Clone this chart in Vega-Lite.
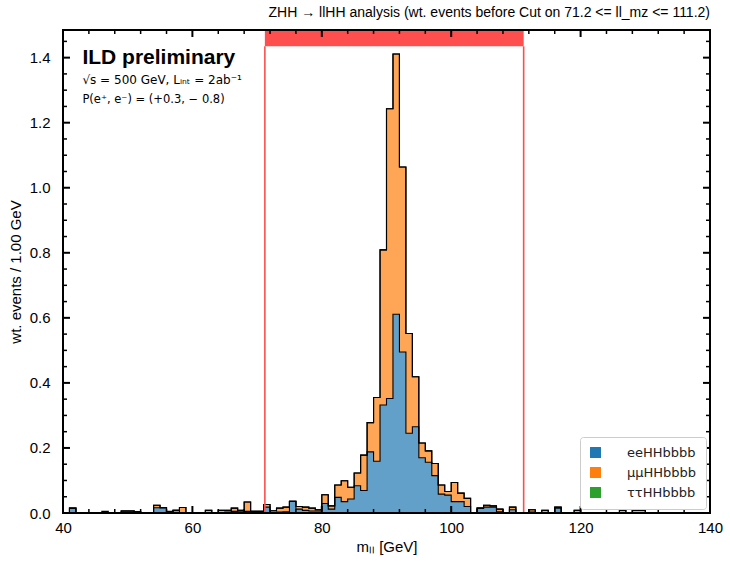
{
  "$schema": "https://vega.github.io/schema/vega-lite/v6.json",
  "width": 647,
  "height": 483,
  "autosize": {"type": "none"},
  "padding": {"left": 63, "top": 30, "right": 20, "bottom": 49},
  "background": "white",
  "title": {"text": "ZHH → llHH analysis (wt. events before Cut on 71.2 <= ll_mz <= 111.2)", "anchor": "end", "frame": "group", "font": "Liberation Sans", "fontSize": 14, "fontWeight": "normal", "color": "black", "offset": 9},
  "config": {
    "view": {"stroke": null},
    "axis": {"grid": false, "domain": false, "ticks": false, "labelColor": "black", "labelFont": "Liberation Sans", "labelFontSize": 15, "titleFont": "Liberation Sans", "titleFontSize": 15, "titleFontWeight": "normal", "titleColor": "black"}
  },
  "resolve": {"scale": {"x": "shared", "y": "shared"}, "axis": {"x": "independent", "y": "independent"}},
  "datasets": {
    "hist": [
      {"m":40,"ee":0,"mm":0,"tt":0},{"m":41,"ee":0.015,"mm":0,"tt":0},{"m":42,"ee":0,"mm":0,"tt":0},{"m":43,"ee":0,"mm":0,"tt":0},{"m":44,"ee":0,"mm":0,"tt":0},
      {"m":45,"ee":0,"mm":0,"tt":0},{"m":46,"ee":0,"mm":0,"tt":0.005},{"m":47,"ee":0,"mm":0,"tt":0},{"m":48,"ee":0,"mm":0,"tt":0},{"m":49,"ee":0.006,"mm":0,"tt":0},
      {"m":50,"ee":0.006,"mm":0,"tt":0},{"m":51,"ee":0.004,"mm":0,"tt":0},{"m":52,"ee":0,"mm":0,"tt":0},{"m":53,"ee":0,"mm":0,"tt":0},{"m":54,"ee":0.016,"mm":0.008,"tt":0},
      {"m":55,"ee":0.016,"mm":0,"tt":0},{"m":56,"ee":0,"mm":0,"tt":0.005},{"m":57,"ee":0.008,"mm":0,"tt":0},{"m":58,"ee":0,"mm":0.017,"tt":0},{"m":59,"ee":0,"mm":0,"tt":0},
      {"m":60,"ee":0,"mm":0,"tt":0},{"m":61,"ee":0,"mm":0,"tt":0},{"m":62,"ee":0,"mm":0.008,"tt":0},{"m":63,"ee":0,"mm":0,"tt":0},{"m":64,"ee":0,"mm":0.008,"tt":0},
      {"m":65,"ee":0.003,"mm":0.005,"tt":0},{"m":66,"ee":0.005,"mm":0.01,"tt":0},{"m":67,"ee":0.004,"mm":0.004,"tt":0},{"m":68,"ee":0.005,"mm":0.029,"tt":0},{"m":69,"ee":0.005,"mm":0,"tt":0},
      {"m":70,"ee":0.005,"mm":0,"tt":0},{"m":71,"ee":0.018,"mm":0.008,"tt":0},{"m":72,"ee":0,"mm":0.007,"tt":0},{"m":73,"ee":0.003,"mm":0.012,"tt":0},{"m":74,"ee":0.004,"mm":0.014,"tt":0},
      {"m":75,"ee":0.036,"mm":0,"tt":0},{"m":76,"ee":0.012,"mm":0.008,"tt":0},{"m":77,"ee":0.008,"mm":0.01,"tt":0},{"m":78,"ee":0.006,"mm":0.009,"tt":0},{"m":79,"ee":0.006,"mm":0.004,"tt":0},
      {"m":80,"ee":0.029,"mm":0.027,"tt":0},{"m":81,"ee":0.012,"mm":0.01,"tt":0},{"m":82,"ee":0.048,"mm":0.038,"tt":0},{"m":83,"ee":0.035,"mm":0.064,"tt":0},{"m":84,"ee":0.043,"mm":0.036,"tt":0},
      {"m":85,"ee":0.084,"mm":0.039,"tt":0},{"m":86,"ee":0.069,"mm":0.109,"tt":0},{"m":87,"ee":0.188,"mm":0.09,"tt":0},{"m":88,"ee":0.159,"mm":0.196,"tt":0},{"m":89,"ee":0.332,"mm":0.477,"tt":0},
      {"m":90,"ee":0.352,"mm":0.891,"tt":0},{"m":91,"ee":0.611,"mm":0.8,"tt":0},{"m":92,"ee":0.495,"mm":0.569,"tt":0},{"m":93,"ee":0.245,"mm":0.307,"tt":0},{"m":94,"ee":0.265,"mm":0.154,"tt":0},
      {"m":95,"ee":0.17,"mm":0.045,"tt":0},{"m":96,"ee":0.156,"mm":0.035,"tt":0},{"m":97,"ee":0.115,"mm":0.037,"tt":0},{"m":98,"ee":0.058,"mm":0.028,"tt":0},{"m":99,"ee":0.055,"mm":0.011,"tt":0},
      {"m":100,"ee":0.035,"mm":0.059,"tt":0},{"m":101,"ee":0.035,"mm":0.026,"tt":0},{"m":102,"ee":0.02,"mm":0.025,"tt":0},{"m":103,"ee":0,"mm":0,"tt":0},{"m":104,"ee":0.015,"mm":0,"tt":0},
      {"m":105,"ee":0.018,"mm":0.006,"tt":0},{"m":106,"ee":0.018,"mm":0.004,"tt":0},{"m":107,"ee":0.004,"mm":0.008,"tt":0},{"m":108,"ee":0,"mm":0,"tt":0},{"m":109,"ee":0.01,"mm":0.008,"tt":0},
      {"m":110,"ee":0,"mm":0,"tt":0},{"m":111,"ee":0,"mm":0,"tt":0},{"m":112,"ee":0.003,"mm":0.007,"tt":0},{"m":113,"ee":0,"mm":0,"tt":0},{"m":114,"ee":0,"mm":0.008,"tt":0},
      {"m":115,"ee":0,"mm":0,"tt":0},{"m":116,"ee":0.015,"mm":0.003,"tt":0},{"m":117,"ee":0,"mm":0,"tt":0},{"m":118,"ee":0,"mm":0,"tt":0},{"m":119,"ee":0,"mm":0.008,"tt":0},
      {"m":120,"ee":0,"mm":0,"tt":0},{"m":121,"ee":0,"mm":0,"tt":0},{"m":122,"ee":0,"mm":0,"tt":0},{"m":123,"ee":0,"mm":0,"tt":0},{"m":124,"ee":0,"mm":0,"tt":0},
      {"m":125,"ee":0,"mm":0,"tt":0},{"m":126,"ee":0,"mm":0.008,"tt":0},{"m":127,"ee":0,"mm":0,"tt":0},{"m":128,"ee":0,"mm":0.008,"tt":0},{"m":129,"ee":0,"mm":0.008,"tt":0},
      {"m":130,"ee":0,"mm":0,"tt":0},{"m":131,"ee":0,"mm":0,"tt":0},{"m":132,"ee":0,"mm":0,"tt":0},{"m":133,"ee":0,"mm":0,"tt":0},{"m":134,"ee":0,"mm":0,"tt":0},
      {"m":135,"ee":0,"mm":0,"tt":0},{"m":136,"ee":0,"mm":0,"tt":0},{"m":137,"ee":0,"mm":0,"tt":0},{"m":138,"ee":0,"mm":0,"tt":0},{"m":139,"ee":0,"mm":0,"tt":0},
      {"m":140,"ee":0,"mm":0,"tt":0}
    ],
    "cut": [{"lo": 71.2, "hi": 111.2}],
    "cutlines": [{"c": 71.2}, {"c": 111.2}],
    "xmajor": [{"v":40},{"v":60},{"v":80},{"v":100},{"v":120},{"v":140}],
    "xminor": [{"v":44},{"v":48},{"v":52},{"v":56},{"v":64},{"v":68},{"v":72},{"v":76},{"v":84},{"v":88},{"v":92},{"v":96},{"v":104},{"v":108},{"v":112},{"v":116},{"v":124},{"v":128},{"v":132},{"v":136}],
    "ymajor": [{"v":0},{"v":0.2},{"v":0.4},{"v":0.6},{"v":0.8},{"v":1.0},{"v":1.2},{"v":1.4}],
    "yminor": [{"v":0.05},{"v":0.1},{"v":0.15},{"v":0.25},{"v":0.3},{"v":0.35},{"v":0.45},{"v":0.5},{"v":0.55},{"v":0.65},{"v":0.7},{"v":0.75},{"v":0.85},{"v":0.9},{"v":0.95},{"v":1.05},{"v":1.1},{"v":1.15},{"v":1.25},{"v":1.3},{"v":1.35},{"v":1.45}]
  },
  "layer": [
    {
      "data": {"name": "hist"},
      "transform": [{"fold": ["ee", "mm", "tt"], "as": ["p", "w"]}],
      "mark": {"type": "area", "interpolate": "step-after", "fillOpacity": 0.7},
      "encoding": {
        "x": {"field": "m", "type": "quantitative", "scale": {"domain": [40, 140], "nice": false, "zero": false},
          "axis": {"orient": "bottom", "values": [40, 60, 80, 100, 120, 140], "labelPadding": 7, "title": "mₗₗ [GeV]", "titlePadding": 4, "labelFlush": false}},
        "y": {"field": "w", "type": "quantitative", "stack": "zero", "scale": {"domain": [0, 1.485], "nice": false},
          "axis": {"orient": "left", "values": [0, 0.2, 0.4, 0.6, 0.8, 1.0, 1.2, 1.4], "format": ".1f", "labelPadding": 13, "title": "wt. events / 1.00 GeV", "titlePadding": 6}},
        "color": {"field": "p", "type": "nominal", "scale": {"domain": ["ee", "mm", "tt"], "range": ["#1f77b4", "#ff7f0e", "#2ca02c"]},
          "legend": {"orient": "bottom-right", "offset": 4, "title": null, "fillColor": "white", "strokeColor": "#cccccc", "cornerRadius": 3, "padding": 9, "symbolType": "square", "symbolSize": 120, "symbolOpacity": 1, "symbolFillOpacity": 1, "symbolStrokeWidth": 0, "labelFont": "DejaVu Sans", "labelFontSize": 13, "labelColor": "#222222", "labelOffset": 25, "rowPadding": 6,
            "labelExpr": "datum.label == 'ee' ? 'eeHHbbbb' : datum.label == 'mm' ? 'μμHHbbbb' : 'ττHHbbbb'"}},
        "order": {"field": "p", "sort": "ascending"}
      }
    },
    {
      "data": {"name": "hist"},
      "transform": [{"fold": ["ee", "mm", "tt"], "as": ["p", "w"]}],
      "mark": {"type": "line", "interpolate": "step-after", "color": "black", "strokeWidth": 1.1},
      "encoding": {
        "x": {"field": "m", "type": "quantitative", "axis": null},
        "y": {"field": "w", "type": "quantitative", "stack": "zero", "axis": null},
        "detail": {"field": "p", "type": "nominal"},
        "order": {"field": "p", "sort": "ascending"}
      }
    },
    {
      "data": {"name": "cut"},
      "mark": {"type": "rect", "color": "#ff4545", "opacity": 0.95},
      "encoding": {
        "x": {"field": "lo", "type": "quantitative", "axis": null},
        "x2": {"field": "hi"},
        "y": {"datum": 1.435, "type": "quantitative", "axis": null},
        "y2": {"datum": 1.485}
      }
    },
    {
      "data": {"name": "cutlines"},
      "mark": {"type": "rule", "color": "#ff4d4d", "strokeWidth": 1.6},
      "encoding": {
        "x": {"field": "c", "type": "quantitative", "axis": null},
        "y": {"datum": 0, "type": "quantitative", "axis": null},
        "y2": {"datum": 1.435}
      }
    },
    {
      "data": {"name": "xmajor"},
      "mark": {"type": "rule", "color": "black", "strokeWidth": 2, "clip": false},
      "encoding": {"x": {"field": "v", "type": "quantitative", "axis": null}, "y": {"datum": 0, "type": "quantitative", "axis": null}, "y2": {"datum": 0.0215}}
    },
    {
      "data": {"name": "xmajor"},
      "mark": {"type": "rule", "color": "black", "strokeWidth": 2, "clip": false},
      "encoding": {"x": {"field": "v", "type": "quantitative", "axis": null}, "y": {"datum": 1.4635, "type": "quantitative", "axis": null}, "y2": {"datum": 1.485}}
    },
    {
      "data": {"name": "xminor"},
      "mark": {"type": "rule", "color": "black", "strokeWidth": 1.5, "clip": false},
      "encoding": {"x": {"field": "v", "type": "quantitative", "axis": null}, "y": {"datum": 0, "type": "quantitative", "axis": null}, "y2": {"datum": 0.0123}}
    },
    {
      "data": {"name": "xminor"},
      "mark": {"type": "rule", "color": "black", "strokeWidth": 1.5, "clip": false},
      "encoding": {"x": {"field": "v", "type": "quantitative", "axis": null}, "y": {"datum": 1.4727, "type": "quantitative", "axis": null}, "y2": {"datum": 1.485}}
    },
    {
      "data": {"name": "ymajor"},
      "mark": {"type": "rule", "color": "black", "strokeWidth": 2, "clip": false},
      "encoding": {"y": {"field": "v", "type": "quantitative", "axis": null}, "x": {"datum": 40, "type": "quantitative", "axis": null}, "x2": {"datum": 41.08}}
    },
    {
      "data": {"name": "ymajor"},
      "mark": {"type": "rule", "color": "black", "strokeWidth": 2, "clip": false},
      "encoding": {"y": {"field": "v", "type": "quantitative", "axis": null}, "x": {"datum": 138.92, "type": "quantitative", "axis": null}, "x2": {"datum": 140}}
    },
    {
      "data": {"name": "yminor"},
      "mark": {"type": "rule", "color": "black", "strokeWidth": 1.5, "clip": false},
      "encoding": {"y": {"field": "v", "type": "quantitative", "axis": null}, "x": {"datum": 40, "type": "quantitative", "axis": null}, "x2": {"datum": 40.62}}
    },
    {
      "data": {"name": "yminor"},
      "mark": {"type": "rule", "color": "black", "strokeWidth": 1.5, "clip": false},
      "encoding": {"y": {"field": "v", "type": "quantitative", "axis": null}, "x": {"datum": 139.38, "type": "quantitative", "axis": null}, "x2": {"datum": 140}}
    },
    {
      "data": {"values": [{}]},
      "mark": {"type": "rect", "fill": null, "fillOpacity": 0, "stroke": "black", "strokeWidth": 2, "clip": false},
      "encoding": {
        "x": {"datum": 40, "type": "quantitative", "axis": null},
        "x2": {"datum": 140},
        "y": {"datum": 0, "type": "quantitative", "axis": null},
        "y2": {"datum": 1.485}
      }
    },
    {
      "data": {"values": [{}]},
      "mark": {"type": "text", "text": "ILD preliminary", "font": "Liberation Sans", "fontSize": 21, "fontWeight": "bold", "align": "left", "baseline": "middle", "color": "black"},
      "encoding": {
        "x": {"datum": 43, "type": "quantitative", "axis": null},
        "y": {"datum": 1.4, "type": "quantitative", "axis": null}
      }
    },
    {
      "data": {"values": [{}]},
      "mark": {"type": "text", "text": "√s = 500 GeV, Lᵢₙₜ = 2ab⁻¹", "font": "DejaVu Sans", "fontSize": 12, "align": "left", "baseline": "middle", "color": "black"},
      "encoding": {
        "x": {"datum": 43, "type": "quantitative", "axis": null},
        "y": {"datum": 1.332, "type": "quantitative", "axis": null}
      }
    },
    {
      "data": {"values": [{}]},
      "mark": {"type": "text", "text": "P(e⁺, e⁻) = (+0.3, − 0.8)", "font": "DejaVu Sans", "fontSize": 11.5, "align": "left", "baseline": "middle", "color": "black"},
      "encoding": {
        "x": {"datum": 43, "type": "quantitative", "axis": null},
        "y": {"datum": 1.271, "type": "quantitative", "axis": null}
      }
    }
  ]
}
